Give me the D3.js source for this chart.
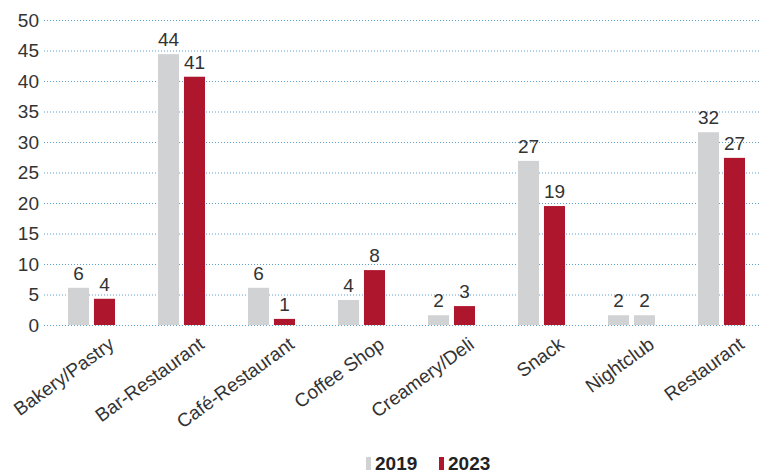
<!DOCTYPE html>
<html>
<head>
<meta charset="utf-8">
<script src="https://cdn.jsdelivr.net/npm/d3@7"></script>
<style>
  html, body { margin: 0; padding: 0; background: #fff; }
  svg { display: block; font-family: "Liberation Sans", Arial, sans-serif; }
</style>
</head>
<body>
<svg id="chart" width="759" height="474"></svg>
<script>
const categories = ["Bakery/Pastry", "Bar-Restaurant", "Café-Restaurant", "Coffee Shop", "Creamery/Deli", "Snack", "Nightclub", "Restaurant"];
const series = ["2019", "2023"];
const values2019 = [6.1, 44.4, 6.1, 4.1, 1.6, 26.9, 1.6, 31.6];
const values2023 = [4.3, 40.7, 1.0, 9.0, 3.1, 19.5, 1.6, 27.4];
const labels2019 = ["6", "44", "6", "4", "2", "27", "2", "32"];
const labels2023 = ["4", "41", "1", "8", "3", "19", "2", "27"];
const greyed2023 = ["Nightclub"];
const yTicks = [0, 5, 10, 15, 20, 25, 30, 35, 40, 45, 50];

const GREY = "#d1d2d4", RED = "#ad162c", TEXT = "#333333";
const FS = 19;

const svg = d3.select("#chart");
const y = d3.scaleLinear().domain([0, 50]).range([325, 20]);
const x0 = d3.scaleBand().domain(categories).range([68, 745]).paddingInner(0.4778).paddingOuter(0);
const x1 = d3.scaleBand().domain(series).range([0, x0.bandwidth()]).paddingInner(0.19).paddingOuter(0);

// grid + y labels
const axis = svg.append("g").attr("transform", "translate(44,0)")
  .call(d3.axisLeft(y).tickValues(yTicks).tickSize(-715).tickPadding(5));
axis.select(".domain").remove();
axis.selectAll(".tick line").attr("stroke", "#5f9fcc").attr("stroke-dasharray", "1,2");
axis.selectAll(".tick text").attr("fill", TEXT).attr("font-size", FS).attr("font-family", "Liberation Sans, Arial, sans-serif");

const rows = categories.map((c, i) => ({
  cat: c,
  items: [
    { s: "2019", v: values2019[i], label: labels2019[i], color: GREY },
    { s: "2023", v: values2023[i], label: labels2023[i], color: greyed2023.includes(c) ? GREY : RED }
  ]
}));

const groups = svg.append("g").selectAll("g").data(rows).join("g")
  .attr("transform", d => `translate(${x0(d.cat)},0)`);

groups.selectAll("rect").data(d => d.items).join("rect")
  .attr("x", d => x1(d.s))
  .attr("y", d => y(d.v))
  .attr("width", x1.bandwidth())
  .attr("height", d => y(0) - y(d.v))
  .attr("fill", d => d.color);

groups.selectAll("text.val").data(d => d.items).join("text")
  .attr("class", "val")
  .attr("x", d => x1(d.s) + x1.bandwidth() / 2)
  .attr("y", d => y(d.v) - 8)
  .attr("text-anchor", "middle")
  .attr("font-size", FS)
  .attr("fill", TEXT)
  .text(d => d.label);

// x labels
svg.append("g").selectAll("text").data(categories).join("text")
  .attr("transform", c => `translate(${x0(c) + x0.bandwidth() / 2 + 24},347) rotate(-36)`)
  .attr("text-anchor", "end")
  .attr("font-size", FS)
  .attr("fill", TEXT)
  .text(c => c);

// legend
const legend = svg.append("g");
const legendItems = [{ s: "2019", color: GREY, x: 366 }, { s: "2023", color: RED, x: 439 }];
legendItems.forEach(d => {
  legend.append("rect").attr("x", d.x).attr("y", 457).attr("width", 5).attr("height", 13).attr("fill", d.color);
  legend.append("text").attr("x", d.x + 9).attr("y", 470).attr("font-size", FS).attr("font-weight", "bold")
    .attr("fill", "#222").text(d.s);
});
</script>
</body>
</html>
